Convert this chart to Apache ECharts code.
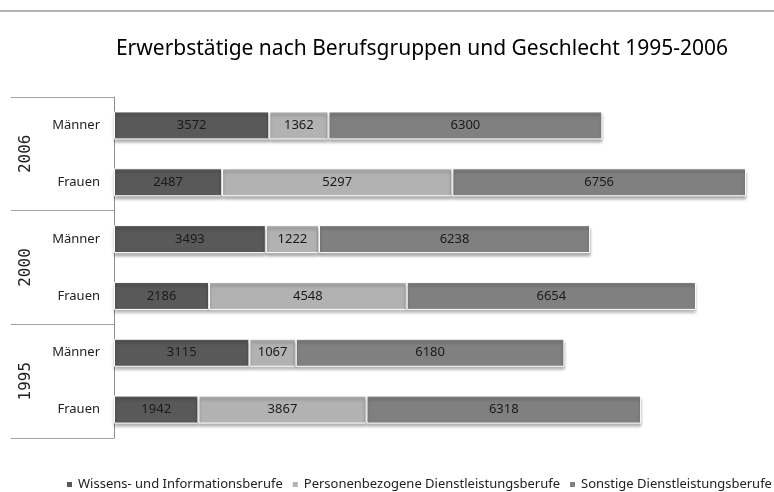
<!DOCTYPE html>
<html>
<head>
<meta charset="utf-8">
<script src="https://cdn.jsdelivr.net/npm/echarts@6/dist/echarts.min.js"></script>
<style>html,body{margin:0;padding:0;background:#fff}#c{width:774px;height:492px}</style>
</head>
<body>
<div id="c"></div>
<script>
// bottom-to-top order
const rowLabels = ['Frauen', 'Männer', 'Frauen', 'Männer', 'Frauen', 'Männer'];
const yearLabels = ['1995', '2000', '2006'];
const seriesNames = ['Wissens- und Informationsberufe', 'Personenbezogene Dienstleistungsberufe', 'Sonstige Dienstleistungsberufe'];
const wissens = [1942, 3115, 2186, 3493, 2487, 3572];
const personen = [3867, 1067, 4548, 1222, 5297, 1362];
const sonstige = [6318, 6180, 6654, 6238, 6756, 6300];
const colors = ['#595959', '#b2b2b2', '#808080'];

const font = '"Noto Sans", sans-serif';
const chart = echarts.init(document.getElementById('c'));
function mk(name, data, color) {
  return {
    name, type: 'bar', stack: 'all', data, barWidth: 28,
    itemStyle: { color, borderColor: '#ffffff', borderWidth: 1,
      shadowColor: 'rgba(0,0,0,0.35)', shadowBlur: 3, shadowOffsetY: 3 },
    label: { show: true, position: 'inside', color: '#1a1a1a', fontFamily: font, fontSize: 13 }
  };
}
chart.setOption({
  animation: false,
  title: { text: 'Erwerbstätige nach Berufsgruppen und Geschlecht 1995-2006', left: 417, textAlign: 'center', top: 34,
    textStyle: { fontFamily: font, fontSize: 21, fontWeight: 'normal', color: '#000' } },
  graphic: [{ type: 'line', shape: { x1: 0, y1: 11, x2: 774, y2: 11 }, style: { stroke: '#9a9a9a', lineWidth: 1.5 } }],
  legend: { top: 473, left: 60, width: 714, itemWidth: 7, itemHeight: 7, itemGap: 8, icon: 'rect',
    textStyle: { fontFamily: font, fontSize: 13, color: '#222' }, data: seriesNames },
  grid: { left: 114, top: 97, width: 632, height: 341, containLabel: false },
  xAxis: { type: 'value', min: 0, max: 14540, show: false },
  yAxis: [
    { type: 'category', data: rowLabels, position: 'left',
      axisLine: { show: true, lineStyle: { color: '#8c8c8c' } }, axisTick: { show: false },
      axisLabel: { margin: 14, fontFamily: font, fontSize: 13, color: '#222' } },
    { type: 'category', data: yearLabels, position: 'left', offset: 0,
      axisLine: { show: false },
      axisTick: { show: true, length: 103, lineStyle: { color: '#a0a0a0' } },
      axisLabel: { margin: 80, rotate: 90, fontFamily: '"DejaVu Sans Mono", monospace', fontSize: 16, color: '#222' } }
  ],
  series: [mk(seriesNames[0], wissens, colors[0]), mk(seriesNames[1], personen, colors[1]), mk(seriesNames[2], sonstige, colors[2])]
});
</script>
</body>
</html>
